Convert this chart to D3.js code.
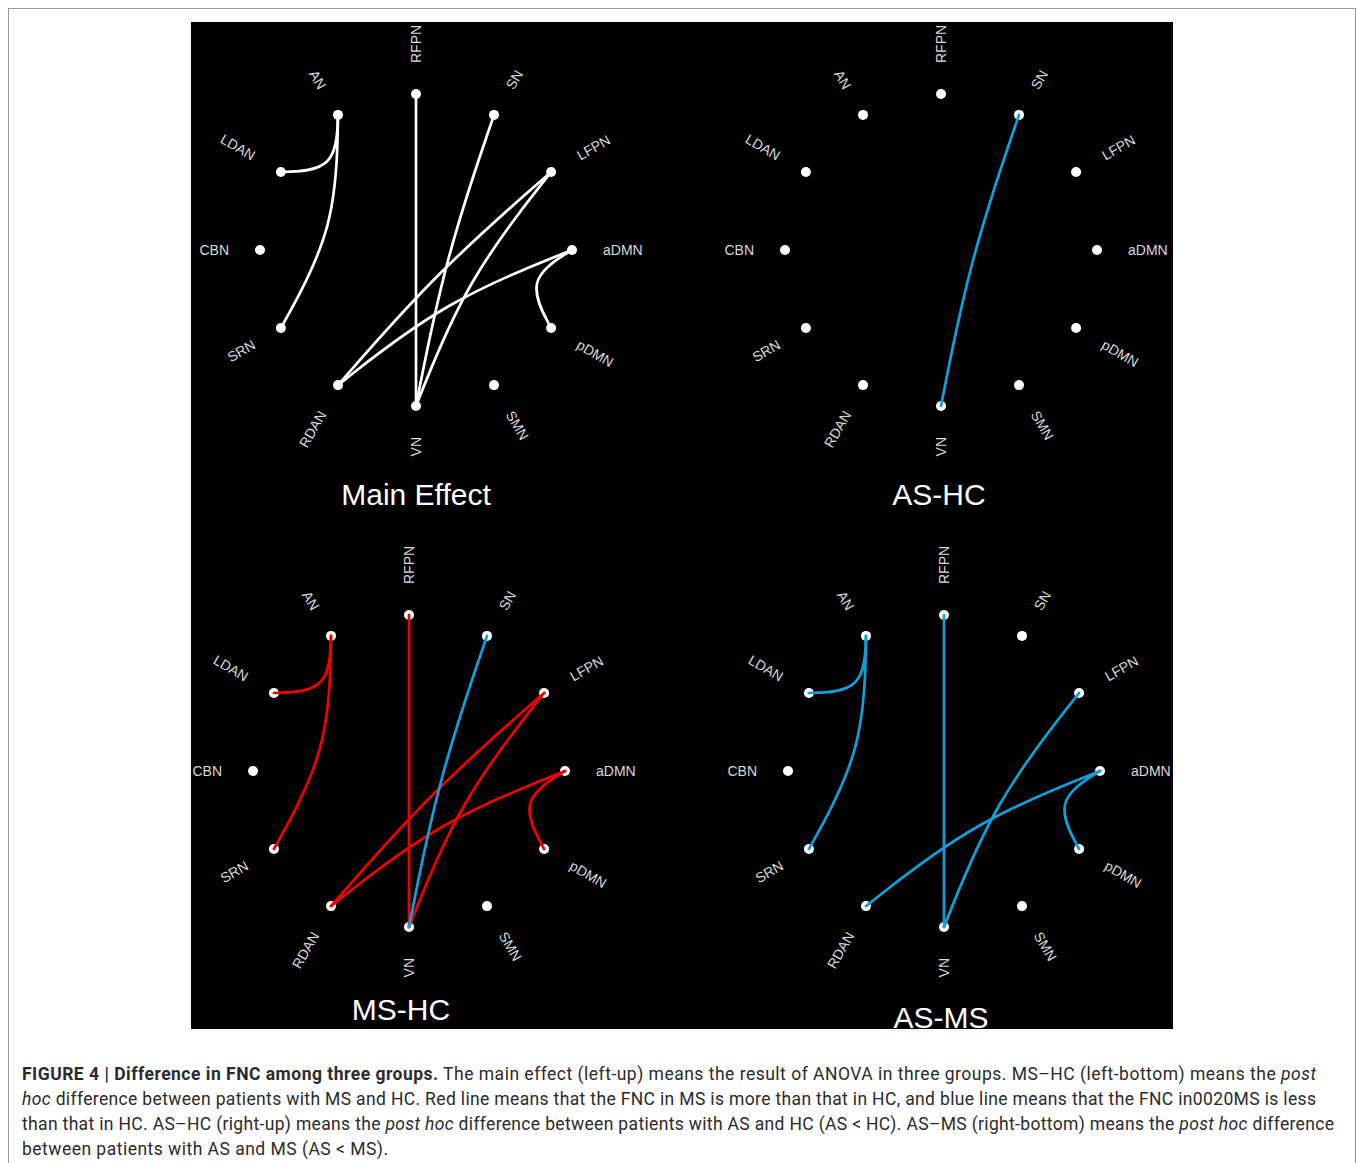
<!DOCTYPE html>
<html lang="en">
<head>
<meta charset="utf-8">
<title>Difference in FNC among three groups</title>
<script src="https://cdn.jsdelivr.net/npm/d3@7"></script>
<style>
  body { margin: 0; background: #fff; }
  .label { font-family: "Liberation Sans", Arial, sans-serif; font-size: 14px; fill: #d8d8d8; }
  .title { font-family: "Liberation Sans", Arial, sans-serif; font-size: 30px; fill: #fff; text-anchor: middle; }
  .caption { font-family: Roboto, "Liberation Sans", sans-serif; font-size: 17.5px; fill: #2b2b2b; }
  .edge { fill: none; stroke-width: 2.7; stroke-linecap: round; }
</style>
</head>
<body>
<script>
// networks, clockwise from the top
var nodes = ["RFPN", "SN", "LFPN", "aDMN", "pDMN", "SMN", "VN", "RDAN", "SRN", "CBN", "LDAN", "AN"];
var panelTitles = ["Main Effect", "AS-HC", "MS-HC", "AS-MS"];

// significant connections
var mainEffect = [["AN", "LDAN"], ["AN", "SRN"], ["RFPN", "VN"], ["SN", "VN"], ["LFPN", "RDAN"], ["LFPN", "VN"], ["aDMN", "RDAN"], ["aDMN", "pDMN"]];
var ashcLess = [["SN", "VN"]];
var mshcMore = [["AN", "LDAN"], ["AN", "SRN"], ["RFPN", "VN"], ["LFPN", "RDAN"], ["LFPN", "VN"], ["aDMN", "RDAN"], ["aDMN", "pDMN"]];
var mshcLess = [["SN", "VN"]];
var asmsLess = [["AN", "LDAN"], ["AN", "SRN"], ["RFPN", "VN"], ["LFPN", "VN"], ["aDMN", "RDAN"], ["aDMN", "pDMN"]];

var captionLines = [
  [["FIGURE 4 | Difference in FNC among three groups.", "b"], [" The main effect (left-up) means the result of ANOVA in three groups. MS\u2013HC (left-bottom) means the ", ""], ["post", "i"]],
  [["hoc", "i"], [" difference between patients with MS and HC. Red line means that the FNC in MS is more than that in HC, and blue line means that the FNC in0020MS is less", ""]],
  [["than that in HC. AS\u2013HC (right-up) means the ", ""], ["post hoc", "i"], [" difference between patients with AS and HC (AS < HC). AS\u2013MS (right-bottom) means the ", ""], ["post hoc", "i"], [" difference", ""]],
  [["between patients with AS and MS (AS < MS).", ""]]
];
var captionWidths = [1294, 1294, 1312, 366];

var white = "#ffffff", red = "#f20000", blue = "#129fd9";

var w = 1358, h = 1163;
var R = 156;

var panels = [
  {title: panelTitles[0], cx: 416, cy: 250, ty: 505, tdx: 0, sets: [[mainEffect, white]]},
  {title: panelTitles[1], cx: 941, cy: 250, ty: 505, tdx: -2, sets: [[ashcLess, blue]]},
  {title: panelTitles[2], cx: 409, cy: 771, ty: 1020, tdx: -8, sets: [[mshcMore, red], [mshcLess, blue]]},
  {title: panelTitles[3], cx: 944, cy: 771, ty: 1028, tdx: -3, sets: [[asmsLess, blue]]}
];

var svg = d3.select("body").append("svg")
  .attr("width", w)
  .attr("height", h);

// frame of the figure
svg.append("rect")
  .attr("x", 8.5).attr("y", 8.5)
  .attr("width", 1347).attr("height", 1180)
  .attr("fill", "none").attr("stroke", "#9a9a9a");

svg.append("clipPath").attr("id", "black-area").append("rect")
  .attr("x", 191).attr("y", 22).attr("width", 982).attr("height", 1007);

svg.append("rect")
  .attr("x", 191).attr("y", 22).attr("width", 982).attr("height", 1007)
  .attr("fill", "#000");

// flat hierarchy, leaves on a ring
var root = d3.hierarchy({name: "root", children: nodes.map(function(n) { return {name: n}; })});
d3.cluster().size([360, R])(root);
var leaves = root.leaves();
var offset = leaves[0].x;
var leafByName = {};
leaves.forEach(function(l) { leafByName[l.data.name] = l; });

var angle = function(d) { return (d.x - offset) / 180 * Math.PI; };
var line = d3.lineRadial()
  .curve(d3.curveBundle.beta(0.25))
  .radius(function(d) { return d.y; })
  .angle(angle);

var area = svg.append("g").attr("clip-path", "url(#black-area)");

panels.forEach(function(p) {
  var g = area.append("g").attr("transform", "translate(" + p.cx + "," + p.cy + ")");

  g.selectAll("text.label")
    .data(leaves)
    .enter()
    .append("text")
    .attr("class", "label")
    .attr("dy", "0.35em")
    .attr("transform", function(d) {
      var a = d.x - offset;
      return "rotate(" + (a - 90) + ") translate(" + (R + 31) + ",0)" + (a < 180 ? "" : " rotate(180)");
    })
    .attr("text-anchor", function(d) { return (d.x - offset) < 180 ? "start" : "end"; })
    .text(function(d) { return d.data.name; });

  g.selectAll("circle")
    .data(leaves)
    .enter()
    .append("circle")
    .attr("cx", function(d) { return d.y * Math.sin(angle(d)); })
    .attr("cy", function(d) { return -d.y * Math.cos(angle(d)); })
    .attr("r", 5)
    .attr("fill", "#fff");

  p.sets.forEach(function(s) {
    g.append("g").selectAll("path")
      .data(s[0])
      .enter()
      .append("path")
      .attr("class", "edge")
      .attr("stroke", s[1])
      .attr("d", function(e) { return line(leafByName[e[0]].path(leafByName[e[1]])); });
  });

  area.append("text")
    .attr("class", "title")
    .attr("x", p.cx + p.tdx)
    .attr("y", p.ty)
    .text(p.title);
});

// caption
captionLines.forEach(function(segs, i) {
  var t = svg.append("text")
    .attr("class", "caption")
    .attr("x", 22)
    .attr("y", 1080 + i * 25);
  if (captionWidths[i]) t.attr("textLength", captionWidths[i]).attr("lengthAdjust", "spacing");
  t.selectAll("tspan")
    .data(segs)
    .enter()
    .append("tspan")
    .attr("font-weight", function(d) { return d[1] === "b" ? "bold" : null; })
    .attr("font-style", function(d) { return d[1] === "i" ? "italic" : null; })
    .text(function(d) { return d[0]; });
});
</script>
</body>
</html>
